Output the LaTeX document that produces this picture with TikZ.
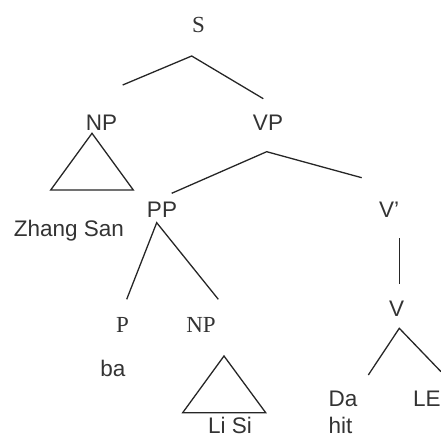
\documentclass[tikz,border=0pt]{standalone}
\usepackage{fontspec}
\setmainfont{Liberation Serif}
\setsansfont{Liberation Sans}
\usetikzlibrary{positioning}

\begin{document}
\begin{tikzpicture}[x=1pt,y=-1pt,
    sanslabel/.style={anchor=base,inner sep=0pt,text=black!80,
      font=\sffamily\fontsize{22.5}{27}\selectfont},
    seriflabel/.style={anchor=base,inner sep=0pt,text=black!80,
      font=\rmfamily\fontsize{23}{27}\selectfont},
    branch/.style={draw=black!85,line width=1.3pt}]
      % fix the page to the size of the picture
      \useasboundingbox (0,0) rectangle (441,438);

      % category labels
      \node[seriflabel] (s) at (198.5,33) {S};
      \node[sanslabel] (np) at (101.5,130.5) {NP};
      \node[sanslabel] (vp) at (268,130.5) {VP};
      \node[sanslabel] (pp) at (162,218) {PP};
      \node[sanslabel] (vbar) at (389,218) {V’};
      \node[seriflabel] (p) at (122.5,332.5) {P};
      \node[seriflabel] (np2) at (201,332.5) {NP};
      \node[sanslabel] (v) at (396.5,316) {V};

      % words under the tree
      \node[sanslabel] (zhang) at (69,236.5) {Zhang San};
      \node[sanslabel] (ba) at (113,376) {ba};
      \node[sanslabel] (lisi) at (230,433.5) {Li Si};
      \node[sanslabel] (da) at (343,406) {Da};
      \node[sanslabel] (hit) at (340.5,433) {hit};
      \node[sanslabel,anchor=base west] (le) at (413,406) {LE};

      % end points of the branches
      \coordinate (s-top) at (191.7,56);
      \coordinate (s-left) at (122.7,85);
      \coordinate (s-right) at (263.3,98.7);
      \coordinate (vp-top) at (266.7,151.7);
      \coordinate (vp-left) at (171.7,193.3);
      \coordinate (vp-right) at (361.7,177.7);
      \coordinate (pp-top) at (156.7,222.7);
      \coordinate (pp-left) at (126.7,299.3);
      \coordinate (pp-right) at (218.3,299.3);
      \coordinate (vbar-top) at (399.3,238.3);
      \coordinate (vbar-bot) at (399.3,284);
      \coordinate (v-top) at (399.3,328.3);
      \coordinate (v-left) at (368.3,375);
      \coordinate (v-right) at (441,371.7);

      % NP triangles
      \coordinate (np-top) at (92,133.3);
      \coordinate (np-bl) at (50.7,190);
      \coordinate (np-br) at (133.3,190);
      \coordinate (np2-top) at (224,356);
      \coordinate (np2-bl) at (182.7,412.7);
      \coordinate (np2-br) at (265.7,412.7);

      % branches
      \draw[branch] (s-left) -- (s-top) -- (s-right);
      \draw[branch] (vp-left) -- (vp-top) -- (vp-right);
      \draw[branch] (pp-left) -- (pp-top) -- (pp-right);
      \draw[branch] (vbar-top) -- (vbar-bot);
      \draw[branch] (v-left) -- (v-top) -- (v-right);
      \draw[branch,line join=miter] (np-top) -- (np-bl) -- (np-br) -- cycle;
      \draw[branch,line join=miter] (np2-top) -- (np2-bl) -- (np2-br) -- cycle;
    \end{tikzpicture}
\end{document}
